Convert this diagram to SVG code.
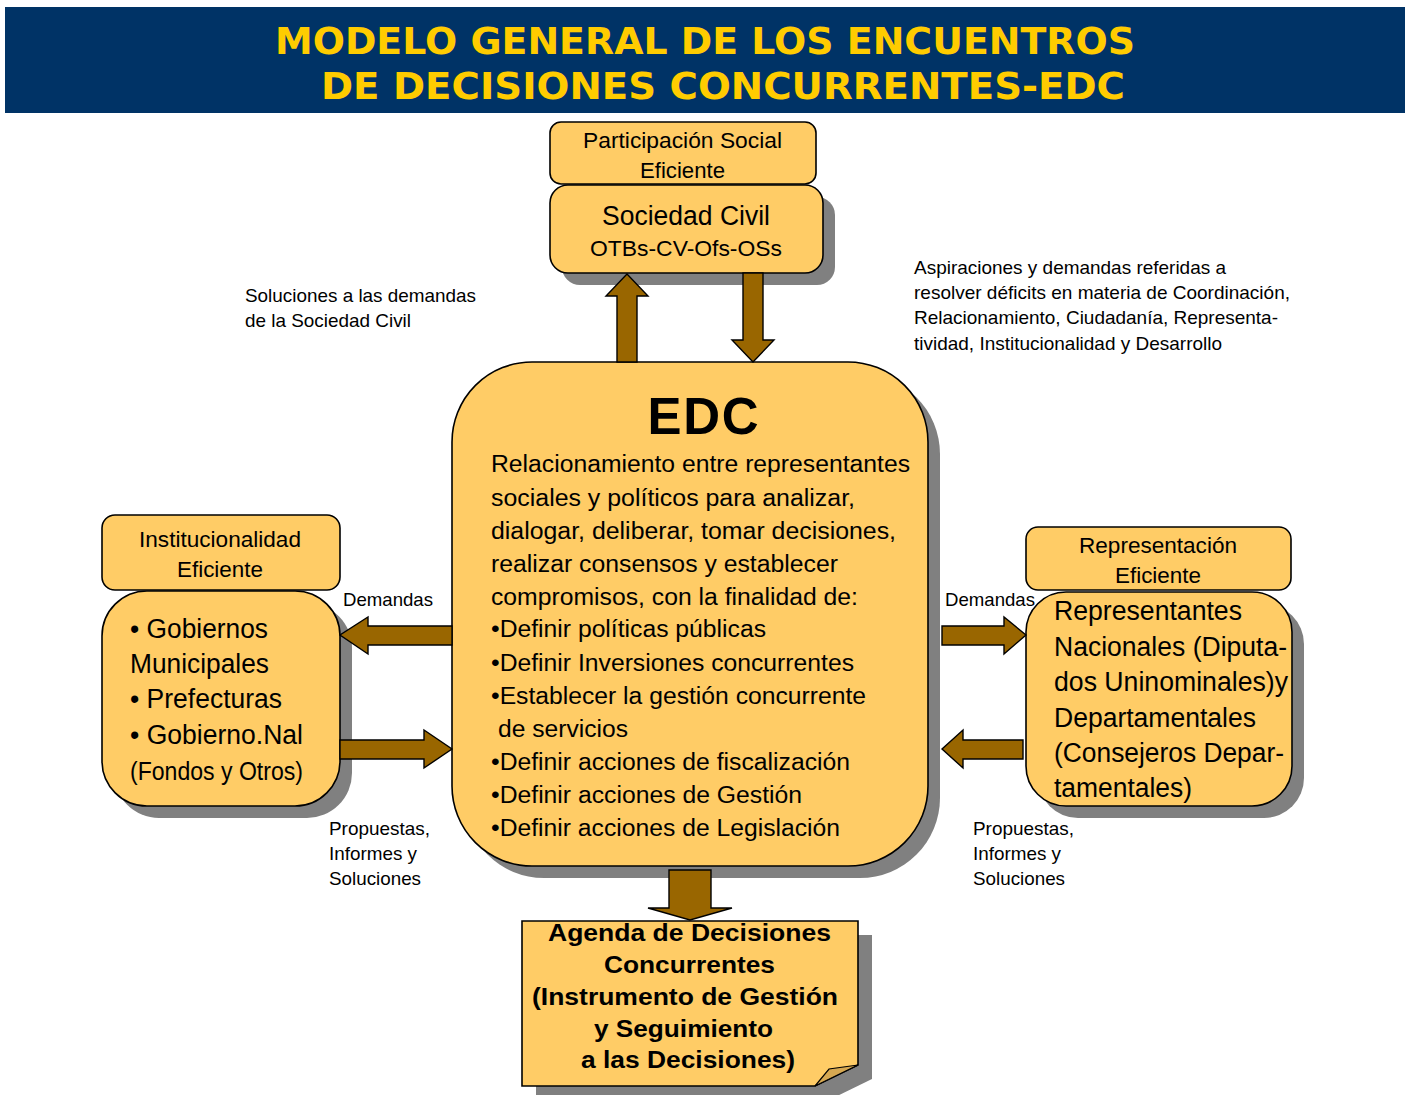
<svg xmlns="http://www.w3.org/2000/svg" width="1405" height="1095" viewBox="0 0 1405 1095">
<style>
.box{fill:#FFCC66;stroke:#000;stroke-width:1.6}
.shadow{fill:#808080}
.arrow{fill:#996600;stroke:#000;stroke-width:1.4;stroke-linejoin:miter}
.t{font-family:"Liberation Sans",Arial,sans-serif;fill:#000}
.c{text-anchor:middle}
.s19{font-size:19px}
.s23{font-size:22px}
.s25{font-size:23px}
.s28{font-size:27px}
.title{font-family:"DejaVu Sans",Verdana,sans-serif;font-weight:bold;font-size:37px;fill:#FFCC00}
.b{font-weight:bold}
</style>
<rect x="5" y="7" width="1400" height="106" fill="#003366"/>
<text class="title" x="275" y="54" textLength="860" lengthAdjust="spacingAndGlyphs">MODELO GENERAL DE LOS ENCUENTROS</text>
<text class="title" x="321" y="99" textLength="804" lengthAdjust="spacingAndGlyphs">DE DECISIONES CONCURRENTES-EDC</text>

<g id="participacion">
<rect class="box" x="550" y="122" width="266" height="62" rx="11"/>
<text class="t s23" x="583" y="148" textLength="199" lengthAdjust="spacingAndGlyphs">Participación Social</text>
<text class="t s23" x="640" y="178" textLength="85" lengthAdjust="spacingAndGlyphs">Eficiente</text>
</g>
<g id="sociedad">
<rect class="shadow" x="562" y="197" width="273" height="88" rx="18"/>
<rect class="box" x="550" y="185" width="273" height="88" rx="18"/>
<text class="t s28" x="602" y="225" textLength="168" lengthAdjust="spacingAndGlyphs">Sociedad Civil</text>
<text class="t s23" x="590" y="256" textLength="192" lengthAdjust="spacingAndGlyphs">OTBs-CV-Ofs-OSs</text>
</g>

<g id="edc">
<rect class="shadow" x="464" y="374" width="476" height="504" rx="80"/>
<rect class="box" x="452" y="362" width="476" height="504" rx="80"/>
<text class="t b c" x="703" y="434" style="font-size:51px" textLength="111" lengthAdjust="spacing">EDC</text>
<g class="t s25">
<text x="491" y="472" textLength="419" lengthAdjust="spacingAndGlyphs">Relacionamiento entre representantes</text>
<text x="491" y="506" textLength="364" lengthAdjust="spacingAndGlyphs">sociales y políticos para analizar,</text>
<text x="491" y="539" textLength="405" lengthAdjust="spacingAndGlyphs">dialogar, deliberar, tomar decisiones,</text>
<text x="491" y="572" textLength="347" lengthAdjust="spacingAndGlyphs">realizar consensos y establecer</text>
<text x="491" y="605" textLength="367" lengthAdjust="spacingAndGlyphs">compromisos, con la finalidad de:</text>
<text x="491" y="637" textLength="275" lengthAdjust="spacingAndGlyphs">•Definir políticas públicas</text>
<text x="491" y="671" textLength="363" lengthAdjust="spacingAndGlyphs">•Definir Inversiones concurrentes</text>
<text x="491" y="704" textLength="375" lengthAdjust="spacingAndGlyphs">•Establecer la gestión concurrente</text>
<text x="498" y="737" textLength="130" lengthAdjust="spacingAndGlyphs">de servicios</text>
<text x="491" y="770" textLength="359" lengthAdjust="spacingAndGlyphs">•Definir acciones de fiscalización</text>
<text x="491" y="803" textLength="311" lengthAdjust="spacingAndGlyphs">•Definir acciones de Gestión</text>
<text x="491" y="836" textLength="349" lengthAdjust="spacingAndGlyphs">•Definir acciones de Legislación</text>
</g>
</g>

<g id="institucionalidad">
<rect class="box" x="102" y="515" width="238" height="75" rx="13"/>
<text class="t s23" x="139" y="547" textLength="162" lengthAdjust="spacingAndGlyphs">Institucionalidad</text>
<text class="t s23" x="177" y="577" textLength="86" lengthAdjust="spacingAndGlyphs">Eficiente</text>
</g>
<g id="gobiernos">
<rect class="shadow" x="114" y="603" width="238" height="215" rx="45"/>
<rect class="box" x="102" y="591" width="238" height="215" rx="45"/>
<g class="t s28">
<text x="130" y="638" textLength="138" lengthAdjust="spacingAndGlyphs">• Gobiernos</text>
<text x="130" y="673" textLength="139" lengthAdjust="spacingAndGlyphs">Municipales</text>
<text x="130" y="708" textLength="152" lengthAdjust="spacingAndGlyphs">• Prefecturas</text>
<text x="130" y="744" textLength="173" lengthAdjust="spacingAndGlyphs">• Gobierno.Nal</text>
<text x="130" y="780" style="font-size:25px" textLength="173" lengthAdjust="spacingAndGlyphs">(Fondos y Otros)</text>
</g>
</g>

<g id="representacion">
<rect class="box" x="1026" y="527" width="265" height="63" rx="12"/>
<text class="t s23" x="1079" y="553" textLength="158" lengthAdjust="spacingAndGlyphs">Representación</text>
<text class="t s23" x="1115" y="583" textLength="86" lengthAdjust="spacingAndGlyphs">Eficiente</text>
</g>
<g id="representantes">
<rect class="shadow" x="1038" y="604" width="266" height="214" rx="40"/>
<rect class="box" x="1026" y="592" width="266" height="214" rx="40"/>
<g class="t s28">
<text x="1054" y="620" textLength="188" lengthAdjust="spacingAndGlyphs">Representantes</text>
<text x="1054" y="656" textLength="233" lengthAdjust="spacingAndGlyphs">Nacionales (Diputa-</text>
<text x="1054" y="691" textLength="234" lengthAdjust="spacingAndGlyphs">dos Uninominales)y</text>
<text x="1054" y="727" textLength="202" lengthAdjust="spacingAndGlyphs">Departamentales</text>
<text x="1054" y="762" textLength="230" lengthAdjust="spacingAndGlyphs">(Consejeros Depar-</text>
<text x="1054" y="797" textLength="138" lengthAdjust="spacingAndGlyphs">tamentales)</text>
</g>
</g>

<g id="agenda">
<path class="shadow" d="M536,935 H872 V1079 L829,1100 H536 Z"/>
<path class="box" d="M522,921 H858 V1065 L815,1086 H522 Z"/>
<path d="M815,1086 L829,1069 L858,1065 Z" fill="#D6A852" stroke="#000" stroke-width="1.2"/>
<g class="t b s25">
<text x="548" y="941" textLength="283" lengthAdjust="spacingAndGlyphs">Agenda de Decisiones</text>
<text x="604" y="973" textLength="171" lengthAdjust="spacingAndGlyphs">Concurrentes</text>
<text x="532" y="1005" textLength="306" lengthAdjust="spacingAndGlyphs">(Instrumento de Gestión</text>
<text x="594" y="1037" textLength="179" lengthAdjust="spacingAndGlyphs">y Seguimiento</text>
<text x="581" y="1068" textLength="214" lengthAdjust="spacingAndGlyphs">a las Decisiones)</text>
</g>
</g>

<g id="connectors">
<polygon class="arrow" points="617,362 617,296 606,296 627,274 648,296 637,296 637,362"/>
<polygon class="arrow" points="743,273 763,273 763,340 774,340 753,362 732,340 743,340"/>
<polygon class="arrow" points="452,626 368,626 368,617 340,635 368,654 368,645 452,645"/>
<polygon class="arrow" points="340,740 424,740 424,730 452,749 424,768 424,759 340,759"/>
<polygon class="arrow" points="942,626 1004,626 1004,617 1026,635 1004,654 1004,645 942,645"/>
<polygon class="arrow" points="1023,740 963,740 963,730 942,749 963,768 963,759 1023,759"/>
<polygon class="arrow" points="669,870 711,870 711,908 732,908 690,920 648,908 669,908"/>
</g>

<g class="t s19">
<text x="245" y="302" textLength="231" lengthAdjust="spacingAndGlyphs">Soluciones a las demandas</text>
<text x="245" y="327" textLength="166" lengthAdjust="spacingAndGlyphs">de la Sociedad Civil</text>
<text x="914" y="274" textLength="312" lengthAdjust="spacingAndGlyphs">Aspiraciones y demandas referidas a</text>
<text x="914" y="299" textLength="376" lengthAdjust="spacingAndGlyphs">resolver déficits en materia de Coordinación,</text>
<text x="914" y="324" textLength="364" lengthAdjust="spacingAndGlyphs">Relacionamiento, Ciudadanía, Representa-</text>
<text x="914" y="350" textLength="308" lengthAdjust="spacingAndGlyphs">tividad, Institucionalidad y Desarrollo</text>
<text x="343" y="606" textLength="90" lengthAdjust="spacingAndGlyphs">Demandas</text>
<text x="945" y="606" textLength="90" lengthAdjust="spacingAndGlyphs">Demandas</text>
<text x="329" y="835" textLength="101" lengthAdjust="spacingAndGlyphs">Propuestas,</text>
<text x="329" y="860" textLength="88" lengthAdjust="spacingAndGlyphs">Informes y</text>
<text x="329" y="885" textLength="92" lengthAdjust="spacingAndGlyphs">Soluciones</text>
<text x="973" y="835" textLength="101" lengthAdjust="spacingAndGlyphs">Propuestas,</text>
<text x="973" y="860" textLength="88" lengthAdjust="spacingAndGlyphs">Informes y</text>
<text x="973" y="885" textLength="92" lengthAdjust="spacingAndGlyphs">Soluciones</text>
</g>
</svg>
